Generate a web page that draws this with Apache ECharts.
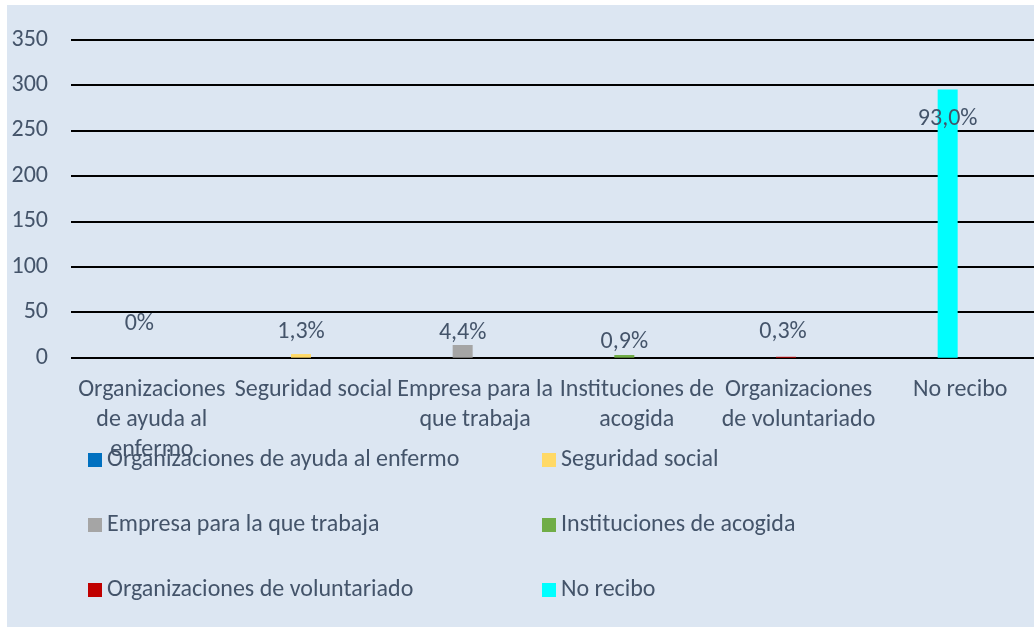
<!DOCTYPE html>
<html>
<head>
<meta charset="utf-8">
<script src="https://cdn.jsdelivr.net/npm/echarts@6/dist/echarts.min.js"></script>
<style>
html,body{margin:0;padding:0;background:#fff;overflow:hidden;width:1034px;height:627px;}
#c{width:1046px;height:627px;}
</style>
</head>
<body>
<div id="c"></div>
<script>
// ---- data ----
const categories = ['Organizaciones de ayuda al enfermo', 'Seguridad social', 'Empresa para la que trabaja', 'Instituciones de acogida', 'Organizaciones de voluntariado', 'No recibo'];
const categoryTickLabels = ['Organizaciones\nde ayuda al\nenfermo', 'Seguridad social', 'Empresa para la\nque trabaja', 'Instituciones de\nacogida', 'Organizaciones\nde voluntariado', 'No recibo'];
const counts = [0, 4, 14, 3, 1, 295];
const pctLabels = ['0%', '1,3%', '4,4%', '0,9%', '0,3%', '93,0%'];
const yMin = 0, yMax = 350, yStep = 50;

// ---- style ----
const colors = ['#0070C0', '#FFD966', '#A5A5A5', '#70AD47', '#C00000', '#00FFFF'];
const labelOffsets = [[0, -17], [0, -5], [0, 5], [0, 4], [-3, -8], [0, 46]];
const FONT = 'Carlito, Calibri, Lato, sans-serif';
const TXT = '#44546A';
const FS = 24;

const series = categories.map((name, i) => ({
  name: name,
  type: 'bar',
  stack: 'main',
  barWidth: 20,
  barGap: '25%',
  itemStyle: { color: colors[i] },
  data: counts.map((v, j) => (j === i ? v : '-')),
  label: {
    show: true,
    position: 'top',
    offset: labelOffsets[i],
    color: TXT,
    fontFamily: FONT,
    fontSize: FS,
    formatter: p => pctLabels[p.dataIndex]
  }
}));
// empty companion series occupying the second slot of each group
series.push({
  name: '_pad',
  type: 'bar',
  barWidth: 20,
  barGap: '25%',
  itemStyle: { color: 'transparent' },
  data: counts.map(() => 0),
  silent: true
});

const chart = echarts.init(document.getElementById('c'), null, { renderer: 'canvas' });
chart.setOption({
  backgroundColor: '#ffffff',
  animation: false,
  color: colors,
  graphic: [{
    type: 'rect', z: -10, silent: true,
    shape: { x: 7, y: 5, width: 1040, height: 622 },
    style: { fill: '#DCE6F2' }
  }],
  grid: { left: 71, top: 39.5, width: 970, height: 318.2, containLabel: false },
  xAxis: {
    type: 'category',
    data: categories,
    axisLine: { show: false },
    axisTick: { show: false },
    axisLabel: {
      interval: 0,
      margin: 17,
      color: TXT,
      fontFamily: FONT,
      fontSize: FS,
      lineHeight: 30,
      formatter: (v, i) => categoryTickLabels[i]
    }
  },
  yAxis: {
    type: 'value',
    min: yMin, max: yMax, interval: yStep,
    axisLine: { show: false },
    axisTick: { show: false },
    axisLabel: { margin: 23, color: TXT, fontFamily: FONT, fontSize: FS },
    splitLine: { lineStyle: { color: '#000', width: 2 } }
  },
  legend: [
    {
      orient: 'vertical', left: 88, top: 448, padding: 0,
      itemWidth: 14, itemHeight: 14, itemGap: 41, icon: 'rect',
      data: [categories[0], categories[2], categories[4]],
      textStyle: { color: TXT, fontFamily: FONT, fontSize: FS }
    },
    {
      orient: 'vertical', left: 542, top: 448, padding: 0,
      itemWidth: 14, itemHeight: 14, itemGap: 41, icon: 'rect',
      data: [categories[1], categories[3], categories[5]],
      textStyle: { color: TXT, fontFamily: FONT, fontSize: FS }
    }
  ],
  series: series
});
</script>
</body>
</html>
